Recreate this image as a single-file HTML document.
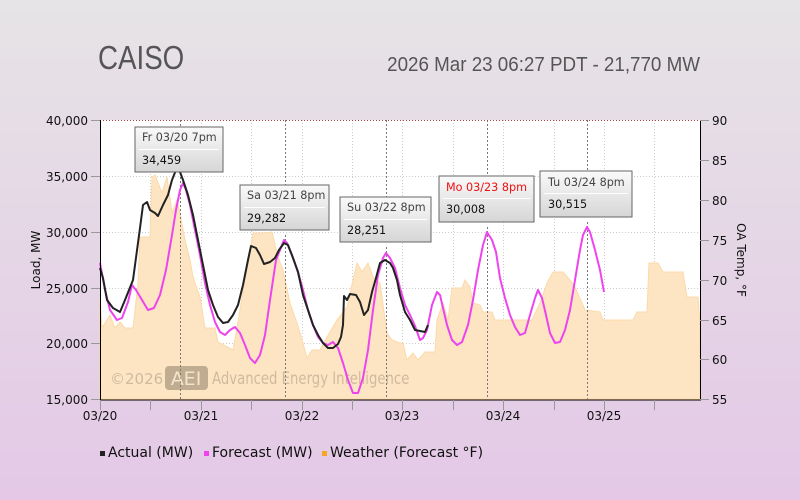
<!DOCTYPE html>
<html><head><meta charset="utf-8"><style>
html{margin:0;padding:0;background:#e4c8e6;width:800px;height:500px;overflow:hidden}
body{margin:0;padding:0;width:800px;height:500px;background:linear-gradient(#e6e4e6,#e4c8e6);font-family:"Liberation Sans",sans-serif;overflow:hidden}
svg{display:block}
svg text{font-family:"DejaVu Sans","Liberation Sans",sans-serif}
</style></head><body>
<svg width="800" height="500" viewBox="0 0 800 500" xmlns="http://www.w3.org/2000/svg">
<defs>
<linearGradient id="tg" x1="0" y1="0" x2="0" y2="1"><stop offset="0" stop-color="#fafafa"/><stop offset="1" stop-color="#d6d6d6"/></linearGradient>
</defs>
<text x="98" y="69" font-size="33" fill="#555" transform="translate(98 0) scale(0.84 1) translate(-98 0)" style="font-family:'Liberation Sans',sans-serif">CAISO</text>
<text x="700" y="71" font-size="20" fill="#555" text-anchor="end" transform="translate(700 0) scale(0.94 1) translate(-700 0)" style="font-family:'Liberation Sans',sans-serif">2026 Mar 23 06:27 PDT - 21,770 MW</text>
<rect x="100" y="120" width="600" height="279" fill="#fff"/>
<g stroke="#ccc" stroke-dasharray="1,2" stroke-width="1">
<line x1="100" y1="176.5" x2="700" y2="176.5"/><line x1="100" y1="232.5" x2="700" y2="232.5"/><line x1="100" y1="288.5" x2="700" y2="288.5"/><line x1="100" y1="343.5" x2="700" y2="343.5"/>
<line x1="150.5" y1="120" x2="150.5" y2="399"/><line x1="201.5" y1="120" x2="201.5" y2="399"/><line x1="251.5" y1="120" x2="251.5" y2="399"/><line x1="302.5" y1="120" x2="302.5" y2="399"/><line x1="352.5" y1="120" x2="352.5" y2="399"/><line x1="402.5" y1="120" x2="402.5" y2="399"/><line x1="453.5" y1="120" x2="453.5" y2="399"/><line x1="503.5" y1="120" x2="503.5" y2="399"/><line x1="554.5" y1="120" x2="554.5" y2="399"/><line x1="604.5" y1="120" x2="604.5" y2="399"/><line x1="654.5" y1="120" x2="654.5" y2="399"/>
</g>
<polygon fill="#fde5c3" stroke="#fcd9a8" stroke-width="1" points="100,399 100,298 102,328 110,315 115,328 120,322 125,328 133,328 138,283 140,237 150,237 152,177 155,175 162,193 167,177 172,213 177,200 180,213 185,240 190,260 193,277 200,297 205,328 215,328 218,342 233,350 237,328 242,297 247,267 253,233 265,233 272,232 278,257 283,270 290,303 297,323 303,343 307,358 312,350 320,350 327,337 337,320 347,307 353,280 357,263 362,272 368,263 373,277 380,283 387,333 392,340 400,343 403,343 407,360 413,353 418,360 425,352 435,352 437,320 443,303 448,320 452,288 462,288 465,280 470,287 473,303 480,305 483,312 492,312 495,320 532,320 540,303 547,283 553,272 563,272 570,280 575,287 585,310 600,312 603,320 633,320 637,312 647,312 649,263 658,263 663,272 683,272 687,297 698,297 700,323 700,399"/>
<g stroke="#777" stroke-dasharray="2,2" stroke-width="1">
<line x1="180.5" y1="177" x2="180.5" y2="399"/><line x1="285.5" y1="235" x2="285.5" y2="399"/><line x1="386.5" y1="247" x2="386.5" y2="399"/><line x1="487.5" y1="227" x2="487.5" y2="399"/><line x1="587.5" y1="222" x2="587.5" y2="399"/>
<line x1="180.5" y1="120" x2="180.5" y2="127"/><line x1="285.5" y1="120" x2="285.5" y2="185"/><line x1="386.5" y1="120" x2="386.5" y2="197"/><line x1="487.5" y1="120" x2="487.5" y2="176"/><line x1="587.5" y1="120" x2="587.5" y2="171"/>
</g>
<line x1="100" y1="120.5" x2="700" y2="120.5" stroke="#b04040" stroke-dasharray="1,2"/>
<g opacity="0.55"><text x="110" y="384" font-size="15" fill="#a89880">©2026</text>
<rect x="165" y="366" width="43" height="24" rx="4" fill="#8f7f68"/><text x="186" y="385" font-size="19" fill="#efe6d8" text-anchor="middle">AEI</text>
<text x="212" y="384" font-size="17" fill="#a89880" transform="translate(212 0) scale(0.78 1) translate(-212 0)">Advanced Energy Intelligence</text></g>
<polyline fill="none" stroke="#ee44ee" stroke-width="2" stroke-linejoin="round" points="100,263 105,290 110,310 117,320 122,318 128,302 132,285 136,290 142,300 148,310 154,308 160,295 166,270 172,235 176,210 180,190 183,183 186,190 190,205 195,230 200,255 205,283 210,305 215,322 220,332 225,335 230,330 235,327 240,333 245,345 250,358 255,363 260,355 265,335 270,300 276,260 280,250 284,240 287,243 292,255 298,272 303,290 308,310 313,325 318,337 323,343 328,345 333,342 338,348 343,363 348,380 353,393 358,393 363,378 368,350 373,310 378,275 383,258 386,253 390,258 395,268 400,288 405,305 410,315 415,326 420,340 423,338 427,330 432,305 437,292 440,295 443,308 447,325 452,340 457,345 462,342 468,325 473,300 478,270 483,245 487,232 492,240 496,252 500,278 505,298 510,315 515,327 520,335 525,333 530,315 535,298 538,290 542,298 546,315 550,333 555,343 560,342 565,330 570,310 575,280 580,250 583,235 587,227 590,232 595,250 600,270 604,292"/>
<polyline fill="none" stroke="#222" stroke-width="2" stroke-linejoin="round" points="100,268 103,278 107,300 113,308 120,312 125,300 133,280 140,228 143,205 147,202 150,210 155,213 158,216 163,205 168,195 172,180 176,170 180,172 183,180 188,195 193,215 198,240 203,265 208,290 213,305 218,317 223,323 228,322 233,315 238,305 243,285 248,260 251,246 256,248 260,255 264,264 270,262 275,258 279,250 284,243 288,245 293,258 298,272 303,295 308,310 313,325 318,335 323,343 328,348 333,348 338,344 341,337 343,325 344,296 347,300 350,294 356,295 360,302 364,315 368,310 372,292 376,278 380,263 385,260 390,263 393,268 397,280 400,295 405,312 410,320 415,330 420,331 425,332 428,325"/>
<line x1="100.5" y1="120" x2="100.5" y2="400" stroke="#000"/>
<line x1="700.5" y1="120" x2="700.5" y2="400" stroke="#000"/>
<line x1="100" y1="400" x2="701" y2="400" stroke="#000"/>
<g stroke="#999">
<line x1="91" y1="120.5" x2="100" y2="120.5"/><line x1="91" y1="176.5" x2="100" y2="176.5"/><line x1="91" y1="232.5" x2="100" y2="232.5"/><line x1="91" y1="288.5" x2="100" y2="288.5"/><line x1="91" y1="343.5" x2="100" y2="343.5"/><line x1="91" y1="399.5" x2="100" y2="399.5"/>
<line x1="700" y1="120.5" x2="709" y2="120.5"/><line x1="700" y1="160.5" x2="709" y2="160.5"/><line x1="700" y1="200.5" x2="709" y2="200.5"/><line x1="700" y1="240.5" x2="709" y2="240.5"/><line x1="700" y1="280.5" x2="709" y2="280.5"/><line x1="700" y1="320.5" x2="709" y2="320.5"/><line x1="700" y1="359.5" x2="709" y2="359.5"/><line x1="700" y1="399.5" x2="709" y2="399.5"/>
<line x1="100.5" y1="400" x2="100.5" y2="410"/><line x1="150.5" y1="400" x2="150.5" y2="410"/><line x1="201.5" y1="400" x2="201.5" y2="410"/><line x1="251.5" y1="400" x2="251.5" y2="410"/><line x1="302.5" y1="400" x2="302.5" y2="410"/><line x1="352.5" y1="400" x2="352.5" y2="410"/><line x1="402.5" y1="400" x2="402.5" y2="410"/><line x1="453.5" y1="400" x2="453.5" y2="410"/><line x1="503.5" y1="400" x2="503.5" y2="410"/><line x1="554.5" y1="400" x2="554.5" y2="410"/><line x1="604.5" y1="400" x2="604.5" y2="410"/><line x1="654.5" y1="400" x2="654.5" y2="410"/>
</g>
<g font-size="12" fill="#111" text-anchor="end">
<text x="88" y="125">40,000</text><text x="88" y="181">35,000</text><text x="88" y="237">30,000</text><text x="88" y="293">25,000</text><text x="88" y="348">20,000</text><text x="88" y="404">15,000</text>
</g>
<g font-size="12" fill="#111">
<text x="712" y="125">90</text><text x="712" y="165">85</text><text x="712" y="205">80</text><text x="712" y="245">75</text><text x="712" y="285">70</text><text x="712" y="325">65</text><text x="712" y="364">60</text><text x="712" y="404">55</text>
</g>
<g font-size="12" fill="#111" text-anchor="middle">
<text x="100" y="420">03/20</text><text x="201" y="420">03/21</text><text x="302" y="420">03/22</text><text x="402" y="420">03/23</text><text x="503" y="420">03/24</text><text x="604" y="420">03/25</text>
</g>
<text transform="translate(40 260) rotate(-90)" font-size="12" fill="#111" text-anchor="middle">Load, MW</text>
<text transform="translate(737 260) rotate(90)" font-size="12" fill="#111" text-anchor="middle">OA Temp, °F</text>
<g font-size="11.2">
<g><rect x="135" y="127" width="88" height="45" fill="url(#tg)" stroke="#666"/><line x1="139" y1="149.5" x2="219" y2="149.5" stroke="#fff"/><text x="142" y="141" fill="#444">Fr 03/20 7pm</text><text x="142" y="164" fill="#111">34,459</text></g>
<g><rect x="240" y="185" width="89" height="45" fill="url(#tg)" stroke="#666"/><line x1="244" y1="207.5" x2="325" y2="207.5" stroke="#fff"/><text x="247" y="199" fill="#444">Sa 03/21 8pm</text><text x="247" y="222" fill="#111">29,282</text></g>
<g><rect x="340" y="197" width="91" height="45" fill="url(#tg)" stroke="#666"/><line x1="344" y1="219.5" x2="427" y2="219.5" stroke="#fff"/><text x="347" y="211" fill="#444">Su 03/22 8pm</text><text x="347" y="234" fill="#111">28,251</text></g>
<g><rect x="439" y="176" width="95" height="46" fill="url(#tg)" stroke="#666"/><line x1="443" y1="198.5" x2="530" y2="198.5" stroke="#fff"/><text x="446" y="191" fill="#ee1111">Mo 03/23 8pm</text><text x="446" y="213" fill="#111">30,008</text></g>
<g><rect x="540" y="171" width="92" height="46" fill="url(#tg)" stroke="#666"/><line x1="544" y1="193.5" x2="628" y2="193.5" stroke="#fff"/><text x="548" y="186" fill="#444">Tu 03/24 8pm</text><text x="548" y="208" fill="#111">30,515</text></g>
</g>
<g font-size="14" fill="#111">
<rect x="100" y="451" width="5" height="5" fill="#222"/><text x="108" y="457">Actual (MW)</text>
<rect x="204" y="451" width="5" height="5" fill="#ee44ee"/><text x="212" y="457">Forecast (MW)</text>
<rect x="322" y="451" width="5" height="5" fill="#f5a623"/><text x="330" y="457">Weather (Forecast °F)</text>
</g>
</svg>
</body></html>
